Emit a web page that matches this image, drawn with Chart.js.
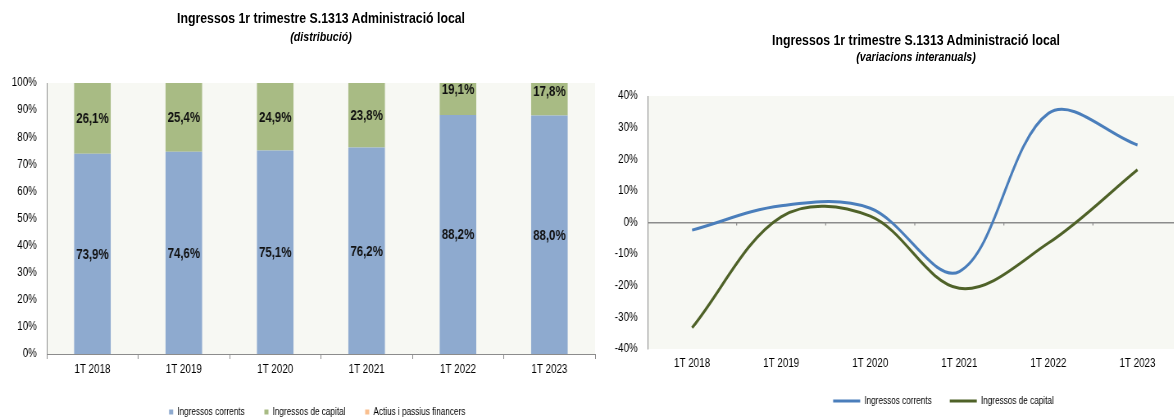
<html>
<head>
<script src="https://cdn.jsdelivr.net/npm/chart.js@4/dist/chart.umd.min.js"></script>
<style>
  html,body{margin:0;padding:0;background:#fff;overflow:hidden;width:1174px;height:419px;}
  canvas{position:absolute;top:0;}
  .ttl{position:absolute;text-align:center;font-family:'Liberation Sans',Arial,sans-serif;color:#000;
       transform:scaleX(0.82);transform-origin:center top;}
  .ttl b{display:block;font-size:15px;line-height:18px;}
  .ttl i{display:block;font-size:13px;line-height:16px;font-weight:bold;}
</style>
<script type="text/javascript">

// categories
var quarters = ["1T 2018","1T 2019","1T 2020","1T 2021","1T 2022","1T 2023"];

// distribution (%)
var corrents  = [73.9, 74.6, 75.1, 76.2, 88.2, 88.0];
var capital   = [26.1, 25.4, 24.9, 23.8, 19.1, 17.8];
var financers = [0, 0, 0, 0, 0, 0];

// year on year change (%)
var varCorrents = [-2.4, 5.3, 4.5, -15.5, 34.5, 24.5];
var varCapital  = [-33.3, 1.8, 2.0, -20.8, -6.5, 16.7];

// the original picture is squeezed horizontally, the canvases get drawn wider and shown narrower
var squeeze = 0.82;
var grey = "#8c8c8c";

// light background behind the plot
var plotBg = {
  id: 'plotBg',
  beforeDraw: function(chart){
    var a = chart.chartArea, c = chart.ctx;
    c.save();
    c.fillStyle = "#f7f8f3";
    c.fillRect(a.left, a.top, a.right - a.left, a.bottom - a.top);
    c.restore();
  }
};

// move the legend sideways
var legendShift = {
  id: 'legendShift',
  afterLayout: function(chart, args, opts){
    chart.legend.left += opts.dx;
    chart.legend.right += opts.dx;
  }
};

// percentage labels in the middle of each bar segment
var barLabels = {
  id: 'barLabels',
  afterDatasetsDraw: function(chart){
    var c = chart.ctx;
    c.save();
    c.font = "bold 14px 'Liberation Sans', Arial, sans-serif";
    c.fillStyle = "#111";
    c.textAlign = "center";
    c.textBaseline = "middle";
    [0,1].forEach(function(d){
      chart.getDatasetMeta(d).data.forEach(function(bar, i){
        var v = chart.data.datasets[d].data[i];
        c.fillText(v.toFixed(1).replace('.', ',') + '%', bar.x, (bar.y + bar.base) / 2 + 1);
      });
    });
    c.restore();
  }
};

// small tick marks on the zero line between categories
var zeroTicks = {
  id: 'zeroTicks',
  afterDraw: function(chart){
    var x = chart.scales.x, y = chart.scales.y, c = chart.ctx;
    var y0 = y.getPixelForValue(0);
    var band = x.getPixelForValue(1) - x.getPixelForValue(0);
    c.save();
    c.strokeStyle = grey;
    c.lineWidth = 1.2;
    c.beginPath();
    for (var i = 1; i <= quarters.length; i++) {
      var px = x.getPixelForValue(i) - band / 2;
      c.moveTo(px, y0);
      c.lineTo(px, y0 + 3);
    }
    c.stroke();
    c.restore();
  }
};

function pct(v){ return v + '%'; }

function init(){
  Chart.defaults.font.family = "'Liberation Sans', Arial, sans-serif";
  Chart.defaults.font.size = 12;
  Chart.defaults.color = "#000";

  var c1 = document.getElementById("distCanvas");
  c1.style.width = (c1.width * squeeze) + "px";
  c1.style.height = c1.height + "px";

  new Chart(c1, {
    type: 'bar',
    data: {
      labels: quarters,
      datasets: [
        { label: "Ingressos corrents", data: corrents, backgroundColor: "#8eaacf" },
        { label: "Ingressos de capital", data: capital, backgroundColor: "#a8bb84" },
        { label: "Actius i passius financers", data: financers, backgroundColor: "#f9bf8f" }
      ]
    },
    options: {
      responsive: false,
      animation: false,
      categoryPercentage: 1,
      barPercentage: 0.4,
      layout: { padding: { left: 0, right: 6, top: 83, bottom: 1 } },
      plugins: {
        legend: {
          position: 'bottom',
          labels: { boxWidth: 5, boxHeight: 5, padding: 24, font: { size: 10 } }
        },
        legendShift: { dx: 24 },
        tooltip: { enabled: false }
      },
      scales: {
        x: {
          stacked: true,
          grid: { display: true, drawOnChartArea: false, drawTicks: true, tickLength: 5, color: grey },
          border: { display: true, color: grey },
          ticks: { padding: 3 },
          afterFit: function(s){ s.height = 29; }
        },
        y: {
          stacked: true,
          min: 0, max: 100,
          grid: { display: false, drawTicks: false },
          border: { display: true, color: grey },
          ticks: { stepSize: 10, padding: 12, callback: pct },
          afterFit: function(s){ s.width = 57; }
        }
      }
    },
    plugins: [plotBg, barLabels, legendShift]
  });

  var c2 = document.getElementById("varCanvas");
  c2.style.width = (c2.width * squeeze) + "px";
  c2.style.height = c2.height + "px";

  new Chart(c2, {
    type: 'line',
    data: {
      labels: quarters,
      datasets: [
        { label: "Ingressos corrents", data: varCorrents, borderColor: "#4a7ebb", backgroundColor: "#4a7ebb",
          borderWidth: 3, pointRadius: 0, tension: 0.35, fill: false },
        { label: "Ingressos de capital", data: varCapital, borderColor: "#4f6228", backgroundColor: "#4f6228",
          borderWidth: 3, pointRadius: 0, tension: 0.35, fill: false }
      ]
    },
    options: {
      responsive: false,
      animation: false,
      layout: { padding: { left: 0, right: 0, top: 96, bottom: 3 } },
      plugins: {
        legend: {
          position: 'bottom',
          labels: { usePointStyle: true, pointStyle: 'line', pointStyleWidth: 33, padding: 22, font: { size: 10 } }
        },
        legendShift: { dx: 64 },
        tooltip: { enabled: false }
      },
      scales: {
        x: {
          offset: true,
          grid: { display: false, drawTicks: false },
          border: { display: false },
          ticks: { padding: 7 },
          afterFit: function(s){ s.height = 25; }
        },
        y: {
          min: -40, max: 40,
          grid: {
            drawTicks: false,
            lineWidth: 1.5,
            color: function(ctx){ return ctx.tick && ctx.tick.value === 0 ? grey : 'rgba(0,0,0,0)'; }
          },
          border: { display: true, color: grey },
          ticks: { stepSize: 10, padding: 12, callback: pct },
          afterFit: function(s){ s.width = 58; }
        }
      }
    },
    plugins: [plotBg, zeroTicks, legendShift]
  });
}
</script>
</head>
<body onLoad="init()">

<canvas id="distCanvas" width="732" height="428" style="left:0;"></canvas>
<canvas id="varCanvas" width="710" height="419" style="left:600px;"></canvas>

<div class="ttl" style="left:0;width:642px;top:9px;">
  <b>Ingressos 1r trimestre S.1313 Administració local</b>
  <i style="margin-top:2px;">(distribució)</i>
</div>
<div class="ttl" style="left:656px;width:520px;top:31px;">
  <b>Ingressos 1r trimestre S.1313 Administració local</b>
  <i>(variacions interanuals)</i>
</div>

</body>
</html>
